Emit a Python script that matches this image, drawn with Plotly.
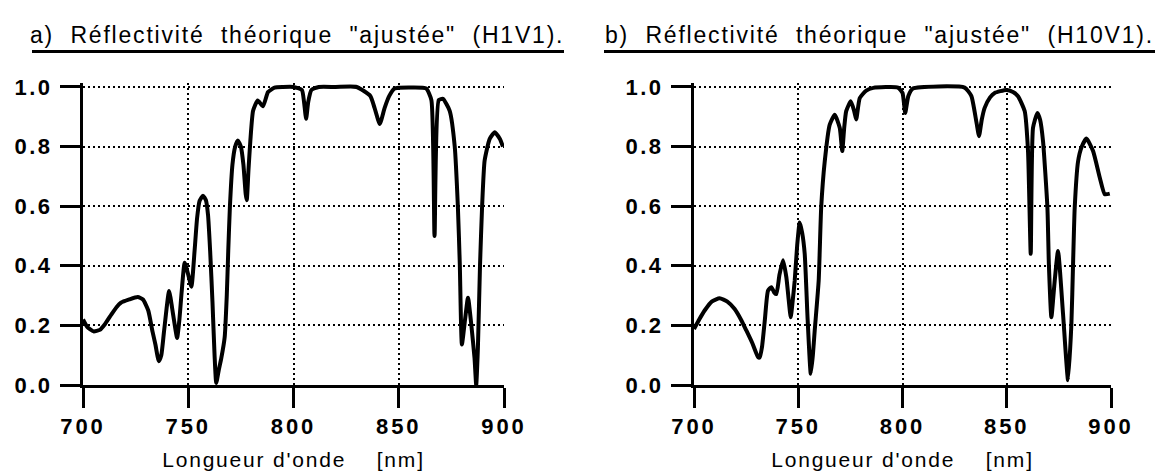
import plotly.graph_objects as go

# ---- data ----
wl_a = [700, 702, 705, 708, 710.5, 713.5, 716, 718, 722, 726, 728.5, 731, 733, 734.4, 736, 737.2,
        738.5, 740.9, 742.8, 744.7, 745.8, 746.9, 748.3, 750, 751.5, 753, 754.2, 755.4, 757, 758.4,
        759.4, 760.4, 761.5, 762.5, 763.3, 764.5, 765.7, 767.3, 768.3, 769.0, 769.8, 771.0, 772.3,
        773.6, 775, 776.2, 777.3, 777.8, 778.6, 779.5, 780.8, 783, 785.5, 787.9, 791, 795, 800, 804,
        805, 806, 807, 808.5, 812, 820, 830, 836.5, 838.5, 841, 843.3, 845.5, 848, 855, 863, 865.5,
        867, 869, 871, 874.2, 876.6, 878.1, 879, 880, 881.5, 882.9, 884.5, 886, 886.8, 887.6, 888.6,
        889.6, 890.8, 893.2, 895.6, 898, 899.5]
refl_a = [0.22, 0.195, 0.18, 0.185, 0.205, 0.237, 0.262, 0.276, 0.287, 0.295, 0.287, 0.25, 0.18,
          0.136, 0.08, 0.10, 0.18, 0.315, 0.237, 0.158, 0.22, 0.315, 0.41, 0.37, 0.33, 0.45, 0.56,
          0.618, 0.635, 0.62, 0.57, 0.45, 0.28, 0.1, 0.007, 0.05, 0.09, 0.16, 0.30, 0.45, 0.60, 0.74,
          0.80, 0.82, 0.80, 0.74, 0.64, 0.62, 0.72, 0.82, 0.92, 0.955, 0.935, 0.983, 0.998, 1.0, 1.0,
          0.99, 0.95, 0.893, 0.95, 0.99, 1.0, 1.0, 1.0, 0.97, 0.93, 0.876, 0.93, 0.97, 0.995, 0.998,
          0.995, 0.956, 0.50, 0.956, 0.96, 0.92, 0.80, 0.596, 0.405, 0.136, 0.22, 0.293, 0.2, 0.09,
          0.0, 0.125, 0.40, 0.60, 0.753, 0.826, 0.848, 0.826, 0.80]

wl_b = [700, 702.5, 705.1, 708.5, 712.3, 716, 719.5, 722.5, 725.1, 728, 730.7, 731.5, 732.6, 734,
        735.5, 737.1, 738.5, 739.5, 741, 742.7, 744.3, 745.5, 746.4, 747.3, 748.3, 749.5, 750.7,
        751.9, 753.1, 754.5, 756, 757, 757.9, 759.8, 761, 762.7, 765.1, 767.5, 769.9, 771.1, 772,
        773, 775.2, 776.8, 777.8, 779.5, 782.6, 786, 797.8, 800, 801.3, 802.8, 805, 829.8, 833,
        835.5, 836.7, 838, 839.4, 842, 844.2, 849.8, 853, 855.4, 858.6, 860.2, 861.5, 862.6, 864.7,
        866, 867.4, 869.5, 870.2, 871.4, 873, 874.6, 877, 879.4, 881, 881.8, 882.6, 884.2, 886,
        888.2, 891.4, 894.6, 897, 899.4]
refl_b = [0.188, 0.22, 0.25, 0.28, 0.291, 0.28, 0.255, 0.22, 0.183, 0.14, 0.094, 0.092, 0.127,
          0.22, 0.317, 0.328, 0.31, 0.305, 0.37, 0.419, 0.361, 0.28, 0.227, 0.28, 0.35, 0.47, 0.545,
          0.51, 0.44, 0.22, 0.038, 0.1, 0.183, 0.35, 0.595, 0.75, 0.874, 0.907, 0.863, 0.785, 0.86,
          0.919, 0.952, 0.92, 0.891, 0.963, 0.988, 0.997, 0.998, 0.98, 0.913, 0.97, 0.995, 0.998,
          0.97, 0.88, 0.835, 0.89, 0.93, 0.965, 0.98, 0.99, 0.983, 0.969, 0.919, 0.785, 0.44, 0.863,
          0.913, 0.89, 0.818, 0.595, 0.405, 0.227, 0.35, 0.45, 0.238, 0.016, 0.205, 0.405, 0.595,
          0.75, 0.8, 0.827, 0.785, 0.696, 0.64, 0.642]

titles = ['a)\u00a0 Réflectivité\u00a0 théorique\u00a0 "ajustée"\u00a0 (H1V1).',
          'b)\u00a0 Réflectivité\u00a0 théorique\u00a0 "ajustée"\u00a0 (H10V1).']
x_title = "Longueur d'onde\u00a0\u00a0\u00a0 [nm]"
x_ticks = [700, 750, 800, 850, 900]
y_ticks = [0.0, 0.2, 0.4, 0.6, 0.8, 1.0]

W, H = 1167, 475
FONT = "Liberation Sans"


def spaced(txt, px):
    return f'<span style="letter-spacing:{px}px">{txt}</span>'


fig = go.Figure()
fig.add_trace(go.Scatter(x=wl_a, y=refl_a, mode="lines", xaxis="x", yaxis="y",
                         line=dict(color="black", width=4, shape="spline", smoothing=0.5),
                         showlegend=False, hoverinfo="skip"))
fig.add_trace(go.Scatter(x=wl_b, y=refl_b, mode="lines", xaxis="x2", yaxis="y2",
                         line=dict(color="black", width=4, shape="spline", smoothing=0.5),
                         showlegend=False, hoverinfo="skip"))

ydom = [1 - 377 / H, 1 - 75.4 / H]
dom_a = [75 / W, 496 / W]
dom_b = [686 / W, 1103 / W]


def xaxis(dom, anchor):
    return dict(domain=dom, anchor=anchor, range=[700, 900], automargin=False,
                tickvals=x_ticks, ticktext=[spaced(str(v), 3) for v in x_ticks],
                ticks="outside", ticklen=20, tickwidth=3, tickcolor="black",
                showline=True, linewidth=3, linecolor="black", mirror=False,
                showgrid=True, gridcolor="black", gridwidth=2, griddash="2px,3px",
                zeroline=False,
                tickfont=dict(family=FONT, size=22, color="black", weight="bold"),
                ticklabelstandoff=0,
                title=dict(text=spaced(x_title, 1.8),
                           font=dict(family=FONT, size=21, color="black"),
                           standoff=14))


def yaxis(anchor):
    return dict(domain=ydom, anchor=anchor, range=[0, 1.012], automargin=False,
                tickvals=y_ticks, ticktext=[spaced(f"{v:.1f}", 2.5) for v in y_ticks],
                ticks="outside", ticklen=20, tickwidth=3, tickcolor="black",
                showline=True, linewidth=3, linecolor="black", mirror=False,
                showgrid=True, gridcolor="black", gridwidth=2, griddash="2px,3px",
                zeroline=False,
                tickfont=dict(family=FONT, size=22, color="black", weight="bold"),
                ticklabelstandoff=3)


fig.update_layout(
    width=W, height=H,
    margin=dict(l=0, r=0, t=0, b=0, autoexpand=False),
    paper_bgcolor="white", plot_bgcolor="white",
    xaxis=xaxis(dom_a, "y"), yaxis=yaxis("x"),
    xaxis2=xaxis(dom_b, "y2"), yaxis2=yaxis("x2"),
    annotations=[
        dict(text=spaced(titles[0], 1.8), x=289 / W, y=1 - 27 / H, xref="paper", yref="paper",
             showarrow=False, xanchor="center", yanchor="middle",
             font=dict(family=FONT, size=23, color="black")),
        dict(text=spaced(titles[1], 1.8), x=871 / W, y=1 - 27 / H, xref="paper", yref="paper",
             showarrow=False, xanchor="center", yanchor="middle",
             font=dict(family=FONT, size=23, color="black")),
    ],
    shapes=[
        dict(type="line", xref="paper", yref="paper", x0=24 / W, x1=556 / W,
             y0=1 - 43.5 / H, y1=1 - 43.5 / H, line=dict(color="black", width=3)),
        dict(type="line", xref="paper", yref="paper", x0=596 / W, x1=1147 / W,
             y0=1 - 43.5 / H, y1=1 - 43.5 / H, line=dict(color="black", width=3)),
    ],
)

fig.write_html("out.html")
